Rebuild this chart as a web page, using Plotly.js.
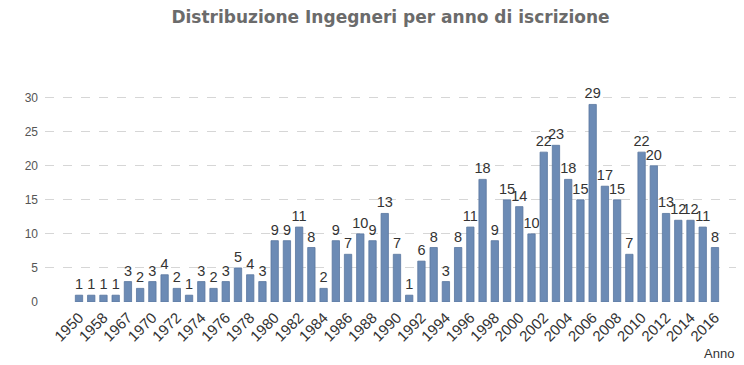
<!DOCTYPE html>
<html>
<head>
<meta charset="utf-8">
<script src="https://cdn.plot.ly/plotly-3.0.1.min.js"></script>
<style>html,body{margin:0;padding:0;background:#fff}#chart{width:744px;height:365px}</style>
</head>
<body>
<div id="chart"></div>
<script>
var years = ["1950","1955","1958","1963","1967","1968","1970","1971","1972","1973","1974","1975","1976","1977","1978","1979","1980","1981","1982","1983","1984","1985","1986","1987","1988","1989","1990","1991","1992","1993","1994","1995","1996","1997","1998","1999","2000","2001","2002","2003","2004","2005","2006","2007","2008","2009","2010","2011","2012","2013","2014","2015","2016"];
var counts = [1,1,1,1,3,2,3,4,2,1,3,2,3,5,4,3,9,9,11,8,2,9,7,10,9,13,7,1,6,8,3,8,11,18,9,15,14,10,22,23,18,15,29,17,15,7,22,20,13,12,12,11,8];
var tickYears = ["1950","1958","1967","1970","1972","1974","1976","1978","1980","1982","1984","1986","1988","1990","1992","1994","1996","1998","2000","2002","2004","2006","2008","2010","2012","2014","2016"];
var yTicks = [0,5,10,15,20,25,30];

var trace = {
  type: 'bar',
  x: years,
  y: counts,
  text: counts.map(String),
  textposition: 'outside',
  constraintext: 'none',
  cliponaxis: false,
  textfont: {family: 'Liberation Sans, Arial, sans-serif', size: 14.5, color: '#333333'},
  marker: {color: '#6c8bb5', line: {color: '#5a77a0', width: 0.8}},
  hoverinfo: 'x+y'
};

var layout = {
  width: 744, height: 365,
  margin: {l: 45, r: 8, t: 84, b: 63},
  paper_bgcolor: '#ffffff', plot_bgcolor: '#ffffff',
  bargap: 0.4,
  showlegend: false,
  title: {
    text: '<b>Distribuzione Ingegneri per anno di iscrizione</b>',
    font: {family: 'DejaVu Sans, Verdana, sans-serif', size: 17, color: '#6b6b6b'},
    x: 0.5, xanchor: 'center', xref: 'paper',
    y: 1 - 17/365, yanchor: 'middle', yref: 'container'
  },
  xaxis: {
    type: 'category',
    range: [-2.78, 53.72],
    tickmode: 'array',
    tickvals: tickYears,
    ticktext: tickYears,
    tickangle: -45,
    tickfont: {family: 'Liberation Sans, Arial, sans-serif', size: 15, color: '#333333'},
    showgrid: false,
    showline: false,
    ticks: '',
    zeroline: false,
    ticklabelstandoff: 3
  },
  yaxis: {
    range: [0, 32],
    tickmode: 'array',
    tickvals: yTicks,
    tickfont: {family: 'Liberation Sans, Arial, sans-serif', size: 12, color: '#555555'},
    showgrid: true,
    gridcolor: '#d6d6d6',
    griddash: 'dash',
    gridwidth: 1,
    zeroline: false,
    showline: false,
    ticks: '',
    ticklabelstandoff: 6
  },
  annotations: [{
    text: 'Anno', xref: 'paper', yref: 'paper',
    x: 1, y: -0.234, xanchor: 'right', yanchor: 'middle', showarrow: false,
    font: {family: 'Liberation Sans, Arial, sans-serif', size: 13, color: '#333333'}
  }]
};

Plotly.newPlot('chart', [trace], layout, {displayModeBar: false, staticPlot: true});
</script>
</body>
</html>
